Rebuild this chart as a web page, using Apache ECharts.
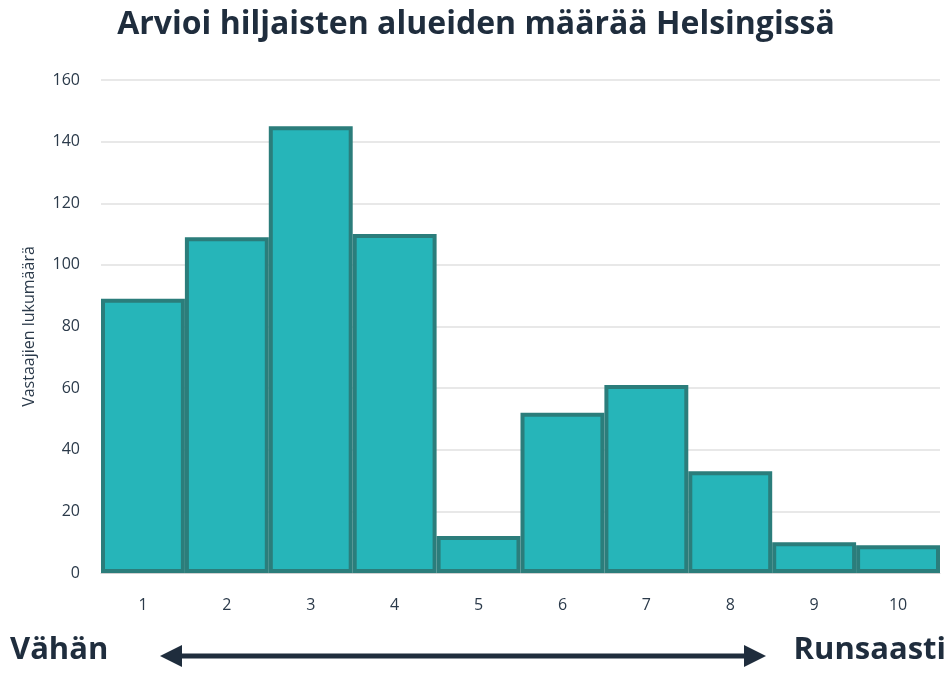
<!DOCTYPE html>
<html>
<head>
<meta charset="utf-8">
<script src="https://cdn.jsdelivr.net/npm/echarts@6/dist/echarts.min.js"></script>
<style>
  html, body { margin: 0; padding: 0; background: #fff; }
  #main { width: 952px; height: 675px; }
</style>
</head>
<body>
<div id="main"></div>
<script>
// arvo-asteikko 1..10 ja vastaajien määrät
const categories = ['1', '2', '3', '4', '5', '6', '7', '8', '9', '10']
const counts = [89, 109, 145, 110, 12, 52, 61, 33, 10, 9]
const yTicks = { min: 0, max: 160, interval: 20 }

const navy = '#1f2d3d'
const chart = echarts.init(document.getElementById('main'))

const option = {
  backgroundColor: '#fff',
  animation: false,
  title: {
    text: 'Arvioi hiljaisten alueiden määrää Helsingissä',
    left: 'center',
    top: 4,
    textStyle: { fontFamily: 'Open Sans', fontWeight: 'bold', fontSize: 32, color: navy },
  },
  grid: { left: 101, right: 12, top: 80, bottom: 102 },
  xAxis: {
    type: 'category',
    data: categories,
    axisTick: { show: false },
    axisLine: { lineStyle: { color: '#d0d0d0' } },
    axisLabel: { color: '#2b3a4a', fontSize: 16, fontFamily: 'Open Sans', margin: 24 },
  },
  yAxis: {
    type: 'value',
    min: yTicks.min,
    max: yTicks.max,
    interval: yTicks.interval,
    name: 'Vastaajien lukumäärä',
    nameLocation: 'middle',
    nameGap: 64,
    nameTextStyle: { color: '#2b3a4a', fontSize: 16, fontFamily: 'Open Sans' },
    axisLabel: { color: '#2b3a4a', fontSize: 16, fontFamily: 'Open Sans', margin: 21 },
    splitLine: { lineStyle: { color: '#e0e0e0', width: 1.5 } },
  },
  series: [
    {
      type: 'bar',
      data: counts,
      barCategoryGap: 0,
      itemStyle: { color: '#26b5b9', borderColor: '#2b7d7b', borderWidth: 4 },
    },
  ],
  graphic: [
    {
      type: 'text',
      left: 10,
      top: 635,
      style: { text: 'Vähän', font: 'bold 31px "Open Sans"', fill: navy },
    },
    {
      type: 'text',
      right: 6,
      top: 635,
      style: { text: 'Runsaasti', font: 'bold 31px "Open Sans"', fill: navy },
    },
    {
      type: 'line',
      shape: { x1: 178, y1: 656, x2: 748, y2: 656 },
      style: { stroke: navy, lineWidth: 5 },
    },
    {
      type: 'polygon',
      shape: { points: [[160, 656], [182, 645], [182, 667]] },
      style: { fill: navy },
    },
    {
      type: 'polygon',
      shape: { points: [[766, 656], [744, 645], [744, 667]] },
      style: { fill: navy },
    },
  ],
}

option && chart.setOption(option)
</script>
</body>
</html>
